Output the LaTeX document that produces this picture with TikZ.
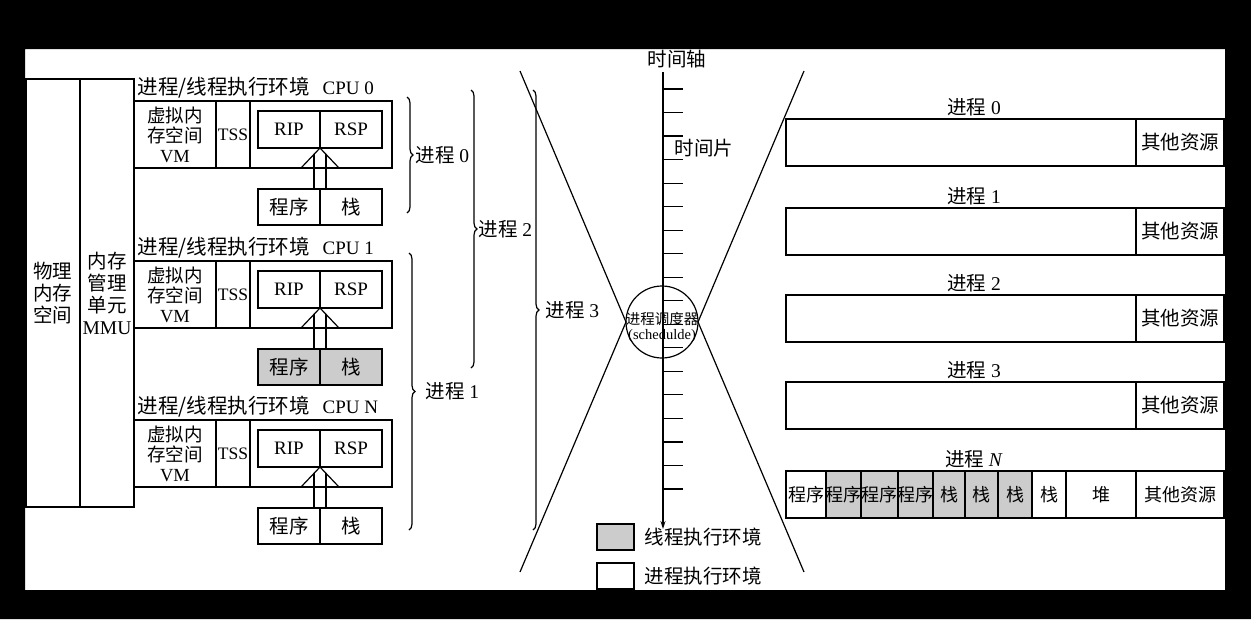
\documentclass[tikz,border=0pt]{standalone}
\usepackage{fontspec}
\setmainfont{Liberation Serif}
\newfontfamily\cjk{Noto Sans CJK SC}
\usetikzlibrary{calc,arrows.meta,decorations.pathreplacing}
\definecolor{envgray}{RGB}{204,204,204}
\tikzset{
  box/.style={draw, line width=1.2pt, inner sep=0pt, outer sep=0pt, align=center},
  zh/.style={font=\fontsize{19.5}{22}\selectfont\cjk},
  brc/.style={decorate, decoration={brace, amplitude=6pt}, line width=1.2pt},
  lbl/.style={inner sep=0pt, font=\fontsize{19.5}{22}\selectfont},
}

\begin{document}
\begin{tikzpicture}[x=1pt, y=-1pt, line width=1.2pt, font=\fontsize{19}{22}\selectfont]
  %%%%% START %%%%%
  \useasboundingbox (0,0) rectangle (1251,619);
  \fill[white] (25,49) rectangle (1225,590);

  % memory columns
  \node[box, zh, anchor=north west, minimum width=54pt, minimum height=428pt] (phys) at (26,79) {物理\\内存\\空间};
  \node[box, zh, anchor=north west, minimum width=54pt, minimum height=428pt] (mmu) at (phys.north east) {内存\\管理\\单元\\\rmfamily MMU};

  % cpu environments
  \foreach \t/\n/\fc in {101/0/white, 261/1/envgray, 420/N/white}{
    \node[anchor=west, inner sep=0pt] (lab\n) at (137,\t-13) {{\fontsize{20.5}{22}\selectfont\cjk 进程/线程执行环境}\hspace{13pt}CPU \n};
    \node[box, zh, anchor=north west, minimum width=82pt, minimum height=67pt, font=\fontsize{18.5}{20}\selectfont\cjk] (vm\n) at (134,\t) {虚拟内\\存空间\\\rmfamily VM};
    \node[box, anchor=north west, minimum width=34pt, minimum height=67pt, font=\fontsize{17.5}{20}\selectfont] (tss\n) at (vm\n.north east) {TSS};
    \node[box, anchor=north west, minimum width=142pt, minimum height=67pt] (cpu\n) at (tss\n.north east) {};
    \node[box, anchor=north west, minimum width=62pt, minimum height=37pt] (rip\n) at (258,\t+10) {RIP};
    \node[box, anchor=west, minimum width=62pt, minimum height=37pt] (rsp\n) at (rip\n.east) {RSP};
    \node[box, zh, fill=\fc, anchor=north west, minimum width=62pt, minimum height=36pt] (prg\n) at (258,\t+88) {程序};
    \node[box, zh, fill=\fc, anchor=west, minimum width=62pt, minimum height=36pt] (stk\n) at (prg\n.east) {栈};
    \draw ($(rip\n.south east)+(-19,20)$) -- (rip\n.south east) -- ($(rip\n.south east)+(19,20)$);
    \draw ($(prg\n.north east)+(-6,0)$) -- ($(rip\n.south east)+(-6,6.3)$);
    \draw ($(prg\n.north east)+(6,0)$) -- ($(rip\n.south east)+(6,6.3)$);
  }

  % braces
  \draw[brc] (407,97) -- (407,213) node[midway, right=8pt, lbl] (br0) {{\cjk 进程} 0};
  \draw[brc] (409,253) -- (409,530) node[midway, right=16pt, lbl] (br1) {{\cjk 进程} 1};
  \draw[brc] (471,90) -- (471,368) node[midway, right=7pt, lbl] (br2) {{\cjk 进程} 2};
  \draw[brc] (533,90) -- (533,530) node[midway, right=12pt, lbl] (br3) {{\cjk 进程} 3};

  % scheduler
  \node[draw, circle, minimum size=72pt, inner sep=0pt, outer sep=0pt] (sched) at (662,322) {};
  \node[align=center, inner sep=0pt, font=\fontsize{14.5}{15}\selectfont] (schedtxt) at ([yshift=-5pt]sched.center) {{\cjk 进程调度器}\\(schedulde)};
  \coordinate (xtl) at (520,71);
  \coordinate (xtr) at (804,71);
  \coordinate (xbl) at (520,572);
  \coordinate (xbr) at (804,572);
  \draw (xtl) -- (sched.west) -- (xbl);
  \draw (xtr) -- (sched.east) -- (xbr);

  % time axis
  \coordinate (axtop) at (663,72);
  \coordinate (axbot) at (663,529);
  \draw[-{Stealth[length=8pt,width=5pt]}] (axtop) -- (axbot);
  \foreach \i in {0,...,17}
    \draw (663,89+\i*23.53) -- ++(20,0);
  \node[zh, inner sep=0pt] (axlab) at (677,59) {时间轴};
  \node[zh, inner sep=0pt] (slice) at (704,148) {时间片};

  % legend
  \node[box, fill=envgray, anchor=north west, minimum width=37pt, minimum height=26pt] (lgthr) at (597,524) {};
  \node[zh, anchor=west, inner sep=0pt] (lgthrtxt) at ($(lgthr.east)+(10,0)$) {线程执行环境};
  \node[box, anchor=north west, minimum width=37pt, minimum height=26pt] (lgprc) at (597,563) {};
  \node[zh, anchor=west, inner sep=0pt] (lgprctxt) at ($(lgprc.east)+(10,0)$) {进程执行环境};

  % process table
  \foreach \t/\n in {119/0, 208/1, 295/2, 382/3}{
    \node[box, anchor=north west, minimum width=350pt, minimum height=47pt] (row\n) at (786,\t) {};
    \node[box, zh, anchor=west, minimum width=88pt, minimum height=47pt] (res\n) at (row\n.east) {其他资源};
    \node[lbl] (rl\n) at (974,\t-12) {{\cjk 进程} \n};
  }
  \node[lbl] (rlN) at (974,459) {{\cjk 进程} \textit{N}};
  \foreach \a/\b/\fc in {786/826/white, 826/861/envgray, 861/898/envgray, 898/933/envgray, 933/965/envgray, 965/998/envgray, 998/1032/envgray, 1032/1066/white, 1066/1136/white, 1136/1224/white}
    \draw[fill=\fc] (\a,471) rectangle (\b,518);
  \foreach \a/\b/\txt [count=\i] in {786/826/程序, 826/861/程序, 861/898/程序, 898/933/程序, 933/965/栈, 965/998/栈, 998/1032/栈, 1032/1066/栈, 1066/1136/堆, 1136/1224/其他资源}
    \node[zh, inner sep=0pt, font=\fontsize{18}{20}\selectfont\cjk] (cell\i) at ({(\a+\b)/2},494.5) {\txt};

  % frame
  \fill[black, even odd rule] (0,0) rectangle (1251,619) (25,49) rectangle (1225,590);
  %%%%% END %%%%%
\end{tikzpicture}
\end{document}
